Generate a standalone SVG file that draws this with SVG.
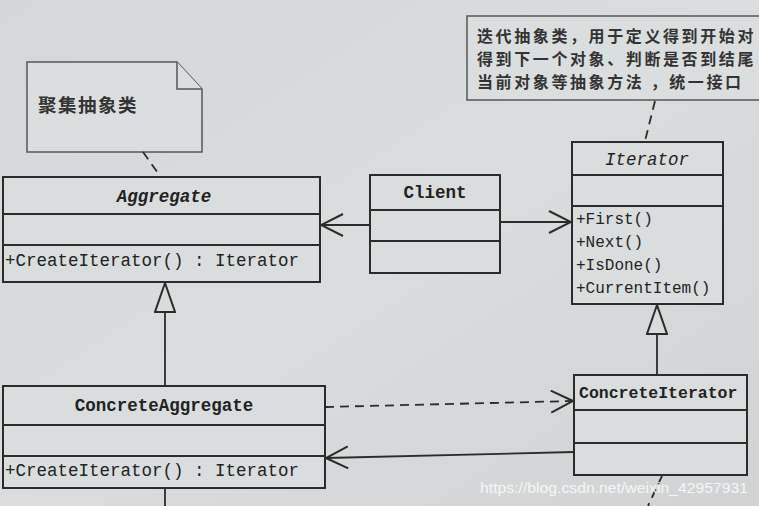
<svg xmlns="http://www.w3.org/2000/svg" width="759" height="506" viewBox="0 0 759 506">
<defs>
<linearGradient id="bg" x1="0" y1="0" x2="1" y2="1">
<stop offset="0" stop-color="#d3d7d7"/>
<stop offset="0.5" stop-color="#dadddd"/>
<stop offset="1" stop-color="#cfd3d3"/>
</linearGradient>
<marker id="open" viewBox="0 0 24 24" refX="23" refY="12" markerWidth="24" markerHeight="24" markerUnits="userSpaceOnUse" orient="auto">
<path d="M1,1 L23,12 L1,23" fill="none" stroke="#2b2b2b" stroke-width="2"/>
</marker>
<marker id="tri" viewBox="0 0 32 22" refX="31" refY="11" markerWidth="32" markerHeight="22" markerUnits="userSpaceOnUse" orient="auto">
<path d="M31,11 L2,1 L2,21 Z" fill="#d8dcdc" stroke="#2b2b2b" stroke-width="2"/>
</marker>
</defs>
<style>
.box{fill:#d9dddd;stroke:#2b2b2b;stroke-width:2}
.div{stroke:#2b2b2b;stroke-width:2}
.note{fill:#dadede;stroke:#555;stroke-width:1.5}
.t{font-family:"Liberation Mono","Noto Sans CJK SC",monospace;font-size:17.5px;fill:#222}
.m{font-size:16px}
.ci{font-size:16.5px;font-weight:600}
.b{font-weight:bold}
.i{font-style:italic}
.cn{font-family:"Noto Sans CJK SC","Noto Sans CJK TC",sans-serif;font-size:16px;letter-spacing:2.6px;fill:#333;font-weight:bold}
.cn1{font-size:18.5px;letter-spacing:1.5px}
.ln{fill:none;stroke:#2b2b2b;stroke-width:1.8}
.dash{stroke-dasharray:9 6}
.wm{font-family:"Liberation Sans",Arial,sans-serif;font-size:15px;fill:#f4f6f6}
</style>
<rect x="0" y="0" width="759" height="506" fill="url(#bg)"/>

<g id="note-aggregate">
<path class="note" d="M27,62 L177,62 L202,89 L202,152 L27,152 Z"/>
<path class="note" d="M177,62 L177,89 L202,89" fill="none"/>
<text class="cn cn1" x="38" y="112">聚集抽象类</text>
</g>

<g id="note-iterator">
<rect class="note" x="467" y="16" width="310" height="84"/>
<text class="cn" x="477" y="42">迭代抽象类，用于定义得到开始对</text>
<text class="cn" x="477" y="65">得到下一个对象、判断是否到结尾</text>
<text class="cn" x="477" y="88">当前对象等抽象方法 ，统一接口</text>
</g>

<g id="aggregate">
<rect class="box" x="3" y="177" width="317" height="105"/>
<line class="div" x1="3" y1="214" x2="320" y2="214"/>
<line class="div" x1="3" y1="245" x2="320" y2="245"/>
<text class="t b i" x="164" y="202" text-anchor="middle">Aggregate</text>
<text class="t" x="5" y="266">+CreateIterator() : Iterator</text>
</g>

<g id="client">
<rect class="box" x="370" y="175" width="130" height="98"/>
<line class="div" x1="370" y1="210" x2="500" y2="210"/>
<line class="div" x1="370" y1="241" x2="500" y2="241"/>
<text class="t b" x="435" y="198" text-anchor="middle">Client</text>
</g>

<g id="iterator">
<rect class="box" x="572" y="142" width="151" height="162"/>
<line class="div" x1="572" y1="175" x2="723" y2="175"/>
<line class="div" x1="572" y1="206" x2="723" y2="206"/>
<text class="t i" x="647" y="165" text-anchor="middle">Iterator</text>
<text class="t m" x="576" y="224">+First()</text>
<text class="t m" x="576" y="247">+Next()</text>
<text class="t m" x="576" y="270">+IsDone()</text>
<text class="t m" x="576" y="293">+CurrentItem()</text>
</g>

<g id="concrete-aggregate">
<rect class="box" x="3" y="386" width="322" height="102"/>
<line class="div" x1="3" y1="425" x2="325" y2="425"/>
<line class="div" x1="3" y1="456" x2="325" y2="456"/>
<text class="t b" x="164" y="411" text-anchor="middle">ConcreteAggregate</text>
<text class="t" x="5" y="476">+CreateIterator() : Iterator</text>
</g>

<g id="concrete-iterator">
<rect class="box" x="574" y="375" width="173" height="100"/>
<line class="div" x1="574" y1="410" x2="747" y2="410"/>
<line class="div" x1="574" y1="443" x2="747" y2="443"/>
<text class="t ci" x="579" y="398">ConcreteIterator</text>
</g>

<g id="connectors">
<line class="ln dash" x1="143" y1="152" x2="160" y2="176"/>
<line class="ln dash" x1="655" y1="101" x2="645" y2="141"/>
<line class="ln" x1="370" y1="225" x2="321" y2="225" marker-end="url(#open)"/>
<line class="ln" x1="500" y1="222" x2="571" y2="222" marker-end="url(#open)"/>
<line class="ln" x1="165" y1="386" x2="165" y2="283" marker-end="url(#tri)"/>
<line class="ln" x1="657" y1="375" x2="657" y2="305" marker-end="url(#tri)"/>
<line class="ln dash" x1="325" y1="407" x2="573" y2="401" marker-end="url(#open)"/>
<line class="ln" x1="574" y1="452" x2="326" y2="458" marker-end="url(#open)"/>
<line class="ln" x1="165" y1="489" x2="165" y2="506"/>
<line class="ln dash" x1="662" y1="476" x2="648" y2="506"/>
</g>

<text class="wm" x="480" y="493" textLength="268" lengthAdjust="spacingAndGlyphs">https://blog.csdn.net/weixin_42957931</text>
</svg>
